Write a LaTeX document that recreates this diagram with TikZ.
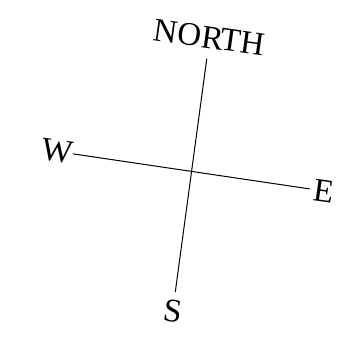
\documentclass[tikz,border=0pt]{standalone}
\usepackage{fontspec}
\setmainfont{Liberation Serif}
\usetikzlibrary{calc}
\tikzset{>=latex}
\tikzset{point/.style={font=\fontsize{33}{40}\selectfont, inner sep=0pt}}
\tikzset{axisline/.style={line width=1pt}}

\begin{document}
\begin{tikzpicture}[x=1pt, y=1pt]
  \useasboundingbox (0, 0) rectangle (348, 346); %
  % the whole cross is turned a little clockwise
  \begin{scope}[shift={(190.7, 173.7)}, rotate=-8, transform shape]
    \node[point] (north) at (0, 136) {NORTH};
    \node[point] (south) at (1.5, -140) {S};
    \node[point] (west) at (-135, 2) {W};
    \node[point] (east) at (134.5, 0) {E};
    \draw[axisline, shorten >=4pt] (west) -- (east); %
    \draw[axisline, shorten <=10pt, shorten >=8pt] (north) -- (south); %
  \end{scope}
\end{tikzpicture}
\end{document}
